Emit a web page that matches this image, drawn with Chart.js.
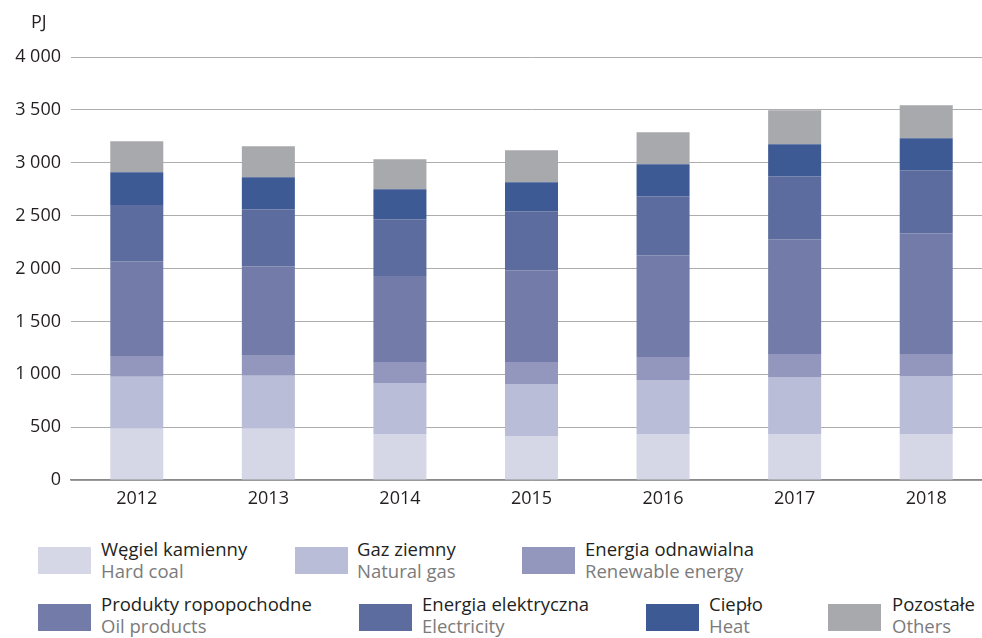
<!DOCTYPE html>
<html lang="pl">
<head>
<meta charset="UTF-8">
<title>Zużycie energii według nośników</title>
<script src="https://cdn.jsdelivr.net/npm/chart.js"></script>
<style>
  html, body { margin: 0; padding: 0; width: 982px; height: 638px; overflow: hidden; background: #fff; font-family: "Open Sans", sans-serif; }
  #wrap { position: absolute; left: 0; top: 0; width: 992px; height: 520px; }
  #unit { position: absolute; left: 31px; top: 10px; font-size: 18px; line-height: 22px; color: #231f20; }
  .sw { position: absolute; width: 53px; height: 27px; }
  .txt { position: absolute; font-size: 18.5px; line-height: 22.3px; white-space: nowrap; }
  .pl { color: #231f20; }
  .en { color: #7b7b7b; }
</style>
</head>
<body>
  <div id="wrap"><canvas id="chart"></canvas></div>
  <div id="unit">PJ</div>
  <div id="legend"></div>

<script>
  // data (PJ)
  const years = ['2012', '2013', '2014', '2015', '2016', '2017', '2018'];
  const hardCoal    = [485, 485, 435, 416, 435, 435, 435];
  const naturalGas  = [491, 501, 482, 491, 510, 538, 548];
  const renewable   = [196, 195, 198, 208, 217, 218, 208];
  const oilProducts = [897, 841, 813, 869, 964, 1086, 1143];
  const electricity = [532, 539, 538, 558, 558, 596, 595];
  const heat        = [309, 302, 284, 274, 302, 302, 303];
  const others      = [293, 293, 283, 302, 302, 321, 311];
  const yTicks = [0, 500, 1000, 1500, 2000, 2500, 3000, 3500, 4000];

  const series = [
    { pl: 'Węgiel kamienny', en: 'Hard coal', data: hardCoal, color: '#d5d7e7' },
    { pl: 'Gaz ziemny', en: 'Natural gas', data: naturalGas, color: '#babdd8' },
    { pl: 'Energia odnawialna', en: 'Renewable energy', data: renewable, color: '#9497bd' },
    { pl: 'Produkty ropopochodne', en: 'Oil products', data: oilProducts, color: '#737ca9' },
    { pl: 'Energia elektryczna', en: 'Electricity', data: electricity, color: '#5d6c9f' },
    { pl: 'Ciepło', en: 'Heat', data: heat, color: '#3e5a94' },
    { pl: 'Pozostałe', en: 'Others', data: others, color: '#a8a9ad' }
  ];

  // legend placement (swatch left/top, text left/top)
  const legendSpots = [
    [38, 547, 101, 538], [295, 547, 357, 538], [522, 547, 585, 538],
    [38, 604, 101, 593], [359, 604, 422, 593], [646, 604, 709, 593], [828, 604, 892, 593]
  ];

  const fmt = v => String(v).replace(/\B(?=(\d{3})+(?!\d))/g, ' ');

  new Chart(document.getElementById('chart'), {
    type: 'bar',
    data: {
      labels: years,
      datasets: series.map(s => ({
        label: s.pl,
        data: s.data,
        backgroundColor: s.color,
        borderWidth: 0,
        barPercentage: 1,
        categoryPercentage: 0.403
      }))
    },
    options: {
      responsive: true,
      maintainAspectRatio: false,
      animation: false,
      layout: { padding: { top: 57, left: 0, right: 0, bottom: 0 } },
      plugins: { legend: { display: false }, tooltip: { enabled: false } },
      scales: {
        x: {
          stacked: true,
          grid: { display: false, drawTicks: false },
          border: { color: '#8a8a8a', width: 1.5 },
          ticks: { color: '#231f20', padding: 8, font: { family: 'Open Sans', size: 18 } },
          afterFit: s => { s.height = 40; s.paddingLeft = 0; s.paddingRight = 0; }
        },
        y: {
          stacked: true,
          min: 0,
          max: 4000,
          afterBuildTicks: s => { s.ticks = yTicks.map(v => ({ value: v })); },
          grid: { color: '#adadad', lineWidth: 1, drawTicks: false },
          border: { display: false },
          ticks: { color: '#231f20', padding: 10, font: { family: 'Open Sans', size: 18 }, callback: v => fmt(v) },
          afterFit: s => { s.width = 71; s.paddingTop = 0; s.paddingBottom = 0; }
        }
      }
    }
  });

  const legend = document.getElementById('legend');
  series.forEach((s, i) => {
    const [sx, sy, tx, ty] = legendSpots[i];
    legend.insertAdjacentHTML('beforeend',
      `<div class="sw" style="left:${sx}px;top:${sy}px;background:${s.color}"></div>` +
      `<div class="txt" style="left:${tx}px;top:${ty}px"><div class="pl">${s.pl}</div><div class="en">${s.en}</div></div>`);
  });
</script>
</body>
</html>
